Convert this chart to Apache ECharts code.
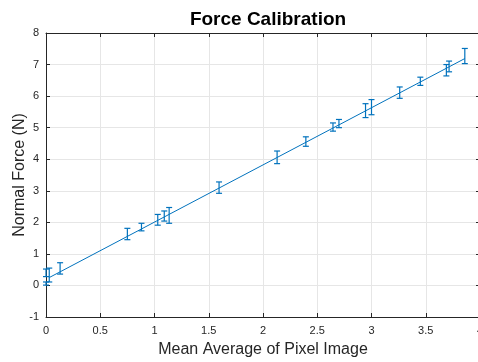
<!DOCTYPE html>
<html><head><meta charset="utf-8">
<script src="https://cdn.jsdelivr.net/npm/echarts@6/dist/echarts.min.js"></script>
<style>html,body{margin:0;padding:0;background:#fff}#c{width:478px;height:362px}</style>
</head><body><div id="c"></div>
<script>
var pointX = [0.0, 0.0, 0.03, 0.13, 0.75, 0.88, 1.03, 1.09, 1.135, 1.595, 2.13, 2.395, 2.645, 2.70, 2.945, 3.0, 3.26, 3.45, 3.69, 3.715, 3.86];
var pointY = [0.40, 0.06, 0.33, 0.54, 1.63, 1.85, 2.08, 2.20, 2.22, 3.10, 4.06, 4.56, 5.02, 5.13, 5.54, 5.65, 6.11, 6.47, 6.82, 6.94, 7.27];
var pointErr = [0.12, 0.05, 0.22, 0.18, 0.18, 0.12, 0.17, 0.16, 0.25, 0.18, 0.20, 0.15, 0.13, 0.13, 0.22, 0.24, 0.18, 0.13, 0.18, 0.17, 0.24];
var fitX = [0.03, 3.86];
var fitY = [0.25, 7.19];
var xTicks = [0, 0.5, 1, 1.5, 2, 2.5, 3, 3.5, 4];
var yTicks = [-1, 0, 1, 2, 3, 4, 5, 6, 7, 8];

var blue = '#0072BD';
var errData = pointX.map(function(x, i){ return [x, pointY[i] - pointErr[i], pointY[i] + pointErr[i], pointY[i]]; });
var fitData = fitX.map(function(x, i){ return [x, fitY[i]]; });

var chart = echarts.init(document.getElementById('c'));
var axisLineStyle = {color: '#262626', width: 1};
var gridLine = {show: true, lineStyle: {color: '#e6e6e6', width: 1}};
chart.setOption({
  animation: false,
  title: {text: 'Force Calibration', left: 263, top: 5, textAlign: 'center',
    textStyle: {fontFamily: 'Liberation Sans, Arial, sans-serif', fontWeight: 'bold', fontSize: 19, color: '#000'}},
  grid: {left: 46, top: 33, width: 434, height: 284, containLabel: false, outerBoundsMode: 'none'},
  xAxis: [{
    type: 'value', min: 0, max: 4, interval: 0.5,
    name: 'Mean Average of Pixel Image', nameLocation: 'middle', nameGap: 25,
    nameTextStyle: {fontFamily: 'Liberation Sans, Arial, sans-serif', fontSize: 16, color: '#262626'},
    axisLine: {show: true, onZero: false, lineStyle: axisLineStyle},
    axisTick: {show: true, inside: true, length: 4, lineStyle: axisLineStyle},
    axisLabel: {fontFamily: 'Liberation Sans, Arial, sans-serif', fontSize: 11, color: '#262626', margin: 8,
      formatter: function(v){ return xTicks.indexOf(v) >= 0 ? String(v) : ''; }},
    splitLine: gridLine
  }, {
    type: 'value', min: 0, max: 4, interval: 0.5, position: 'top',
    axisLine: {show: true, onZero: false, lineStyle: axisLineStyle},
    axisTick: {show: true, inside: true, length: 4, lineStyle: axisLineStyle},
    axisLabel: {show: false}, splitLine: {show: false}
  }],
  yAxis: [{
    type: 'value', min: -1, max: 8, interval: 1,
    name: 'Normal Force (N)', nameLocation: 'middle', nameGap: 18, nameRotate: 90, nameMoveOverlap: false,
    nameTextStyle: {fontFamily: 'Liberation Sans, Arial, sans-serif', fontSize: 16, color: '#262626'},
    axisLine: {show: true, onZero: false, lineStyle: axisLineStyle},
    axisTick: {show: true, inside: true, length: 4, lineStyle: axisLineStyle},
    axisLabel: {fontFamily: 'Liberation Sans, Arial, sans-serif', fontSize: 11, color: '#262626', margin: 7,
      formatter: function(v){ return yTicks.indexOf(v) >= 0 ? String(v) : ''; }},
    splitLine: gridLine
  }, {
    type: 'value', min: -1, max: 8, interval: 1, position: 'right',
    axisLine: {show: true, onZero: false, lineStyle: axisLineStyle},
    axisTick: {show: true, inside: true, length: 4, lineStyle: axisLineStyle},
    axisLabel: {show: false}, splitLine: {show: false}
  }],
  series: [{
    type: 'line', data: fitData, showSymbol: false, symbol: 'none',
    lineStyle: {color: blue, width: 1}, z: 3
  }, {
    type: 'custom', data: errData, z: 4,
    renderItem: function(params, api){
      var lo = api.coord([api.value(0), api.value(1)]);
      var hi = api.coord([api.value(0), api.value(2)]);
      var hw = 3;
      var st = {stroke: blue, lineWidth: 1.2, fill: null};
      return {type: 'group', children: [
        {type: 'line', shape: {x1: lo[0], y1: lo[1], x2: hi[0], y2: hi[1]}, style: st},
        {type: 'line', shape: {x1: lo[0]-hw, y1: lo[1], x2: lo[0]+hw, y2: lo[1]}, style: st},
        {type: 'line', shape: {x1: hi[0]-hw, y1: hi[1], x2: hi[0]+hw, y2: hi[1]}, style: st}
      ]};
    },
    encode: {x: 0, y: [1, 2]}
  }]
});
</script>
</body></html>
